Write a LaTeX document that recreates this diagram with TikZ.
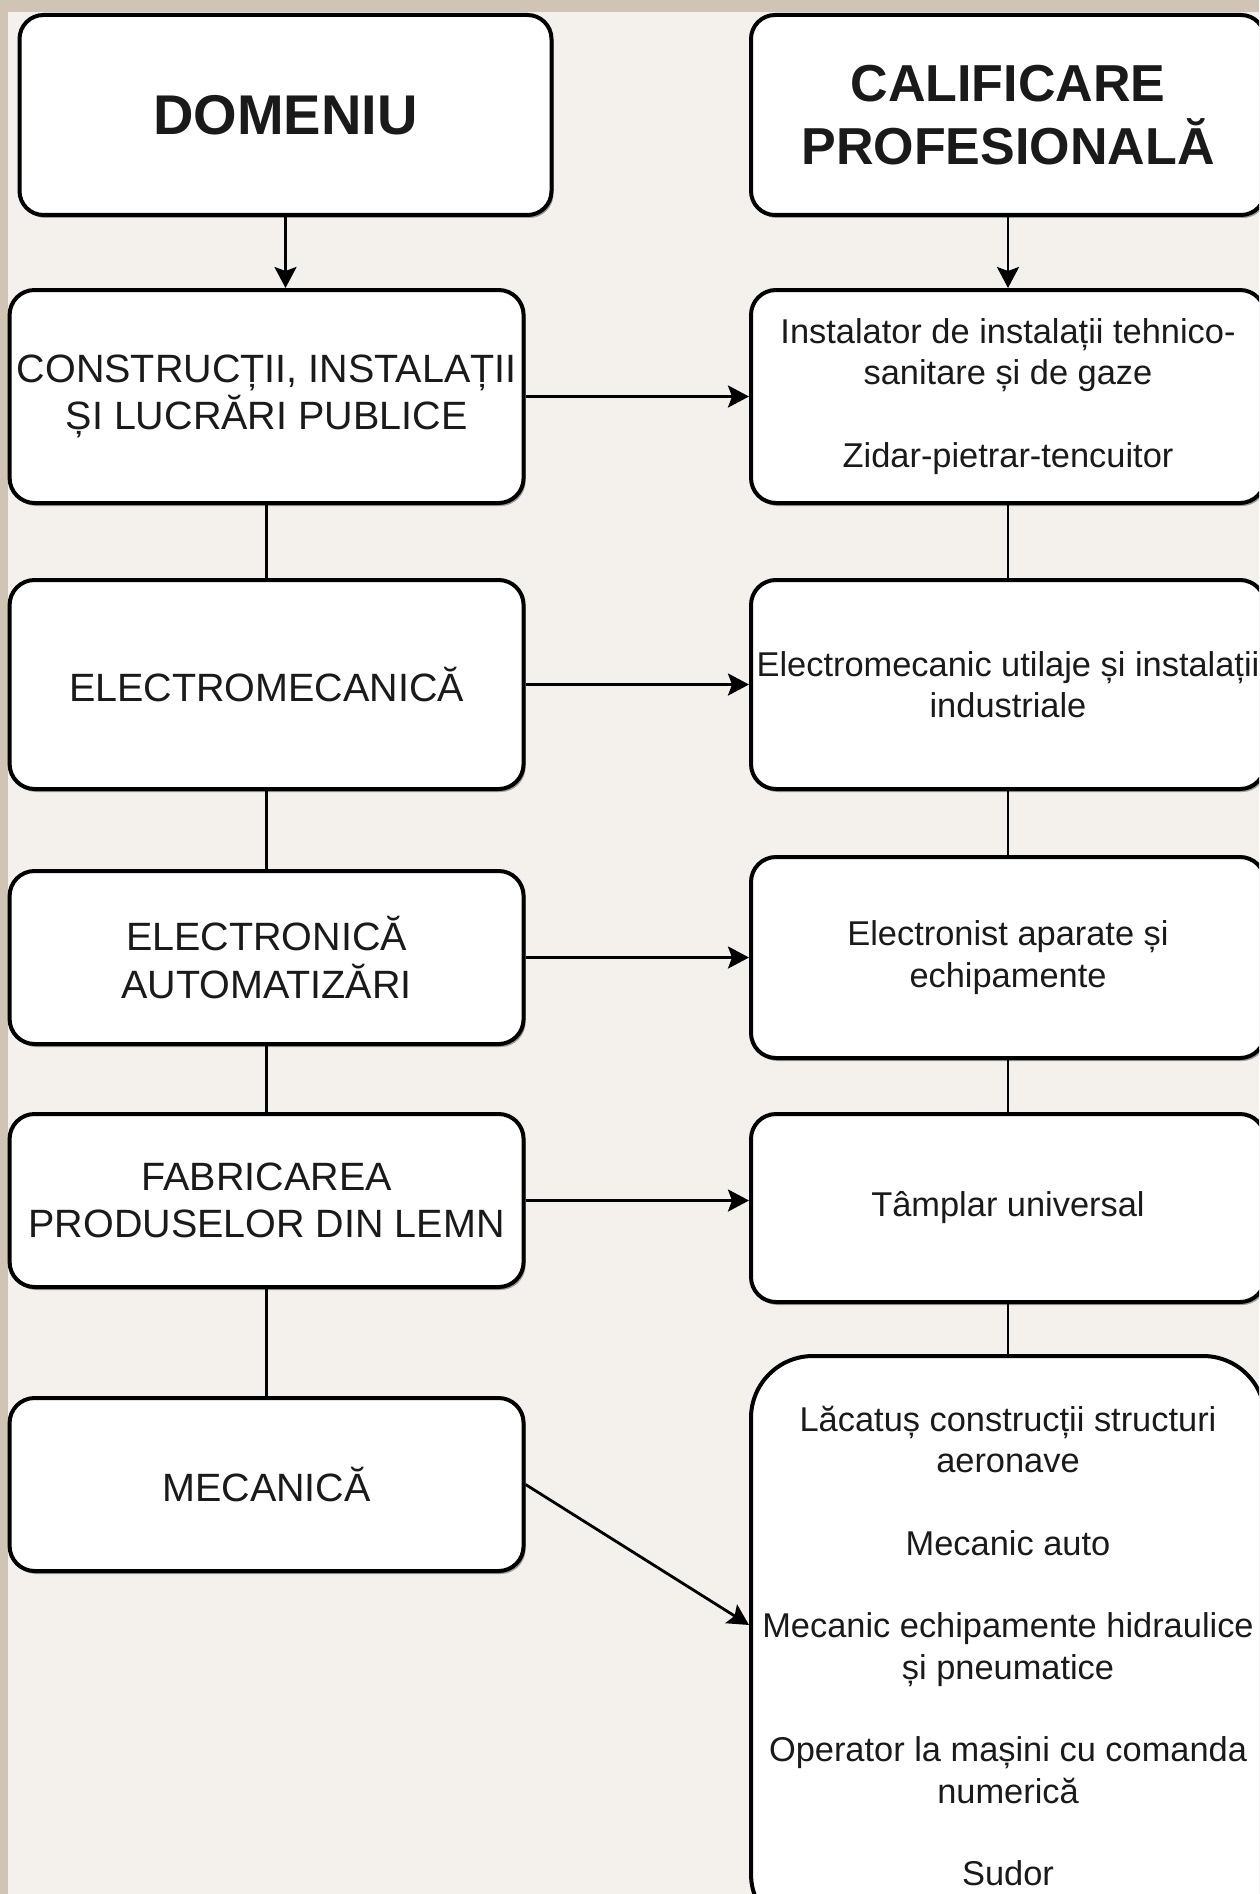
\documentclass[tikz,border=0pt]{standalone}
\usepackage{fontspec}
\setmainfont{Liberation Sans}
\usetikzlibrary{arrows.meta,shadows,calc}
\definecolor{bandc}{RGB}{208,196,180}
\definecolor{bgc}{RGB}{244,240,235}
\definecolor{txtc}{RGB}{26,26,26}
\begin{document}
\begin{tikzpicture}[x=1pt,y=-1pt,
  box/.style={draw=black, line width=4pt, fill=white, rounded corners=25pt,
    inner sep=0pt, align=center, text=txtc, minimum width=514pt,
    drop shadow={shadow xshift=2pt, shadow yshift=-3pt, opacity=0.35, fill=black}},
  titlebox/.style={box, font=\fontsize{52}{62.4}\selectfont\bfseries},
  leftbox/.style={box, font=\fontsize{39.5}{47.4}\selectfont},
  rightbox/.style={box, font=\fontsize{34.4}{41.3}\selectfont},
  conn/.style={draw=black, line width=2.8pt},
  arr/.style={conn, -{Stealth[length=21pt,width=22pt,inset=4pt]}}
]
\useasboundingbox (0,0) rectangle (1259,1894);
\clip (0,0) rectangle (1259,1894);
\fill[bandc] (0,0) rectangle (1259,1894);
\fill[bgc] (7.5,12) rectangle (1259,1894);

% headers
\node[titlebox, font=\fontsize{56}{67}\selectfont\bfseries, minimum width=532pt, minimum height=200pt, rounded corners=24pt] (h1) at (285.5,115) {DOMENIU};
\node[titlebox, minimum height=200pt, rounded corners=24pt] (h2) at (1008,115) {CALIFICARE\\PROFESIONALĂ};

% left column
\node[leftbox, minimum height=213pt] (l2) at (266.6,396.5) {CONSTRUCȚII, INSTALAȚII\\ȘI LUCRĂRI PUBLICE};
\node[leftbox, minimum height=209pt] (l3) at (266.6,684.5) {ELECTROMECANICĂ};
\node[leftbox, minimum height=173pt] (l4) at (266.6,957.5) {ELECTRONICĂ\\AUTOMATIZĂRI};
\node[leftbox, minimum height=173pt] (l5) at (266.6,1200.5) {FABRICAREA\\PRODUSELOR DIN LEMN};
\node[leftbox, minimum height=173pt] (l6) at (266.6,1484.5) {MECANICĂ};

% right column
\node[rightbox, minimum height=213pt] (r2) at (1008,396.5) {Instalator de instalații tehnico-\\sanitare și de gaze\\[41.3pt]Zidar-pietrar-tencuitor};
\node[rightbox, minimum height=209pt] (r3) at (1008,684.5) {Electromecanic utilaje și instalații\\industriale};
\node[rightbox, minimum height=201pt] (r4) at (1008,957.5) {Electronist aparate și\\echipamente};
\node[rightbox, minimum height=188pt] (r5) at (1008,1208) {Tâmplar universal};
\node[rightbox, minimum height=580pt, rounded corners=62pt] (r6) at (1008,1646) {Lăcatuș construcții structuri\\aeronave\\[41.3pt]Mecanic auto\\[41.3pt]Mecanic echipamente hidraulice\\și pneumatice\\[41.3pt]Operator la mașini cu comanda\\numerică\\[41.3pt]Sudor};

% connectors
\draw[arr] (h1.south) -- (h1.south |- l2.north);
\draw[arr] (h2.south) -- (r2.north);

\draw[conn] (l2.south) -- (l3.north);
\draw[conn] (l3.south) -- (l4.north);
\draw[conn] (l4.south) -- (l5.north);
\draw[conn] (l5.south) -- (l6.north);

\draw[conn] (r2.south) -- (r3.north);
\draw[conn] (r3.south) -- (r4.north);
\draw[conn] (r4.south) -- (r5.north);
\draw[conn] (r5.south) -- (r6.north);

\draw[arr] (l2.east) -- (r2.west);
\draw[arr] (l3.east) -- (r3.west);
\draw[arr] (l4.east) -- (r4.west);
\draw[arr] (l5.east) -- (l5.east -| r5.west);
\coordinate (tgt) at ($(r6.north west)!0.464!(r6.south west)$);
\draw[arr] (l6.east) -- (tgt);
\end{tikzpicture}
\end{document}
